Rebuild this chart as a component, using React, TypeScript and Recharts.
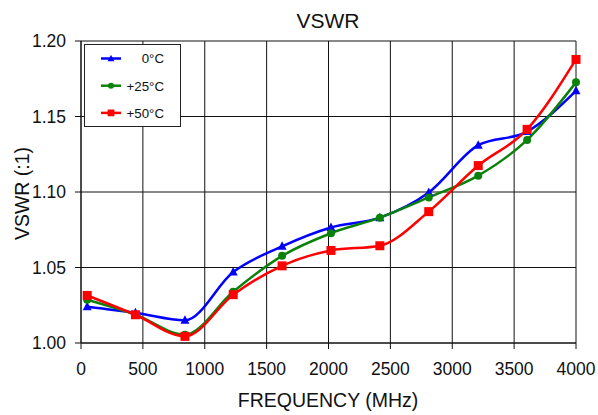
import { LineChart, Line, XAxis, YAxis, CartesianGrid, Legend } from "recharts";

const FREQ = [50, 440, 840, 1230, 1625, 2020, 2415, 2810, 3210, 3605, 4000];
const T0 = [1.024, 1.02, 1.015, 1.047, 1.064, 1.0765, 1.083, 1.0997, 1.131, 1.14, 1.167];
const T25 = [1.0286, 1.0187, 1.0055, 1.034, 1.0577, 1.0727, 1.083, 1.0964, 1.1108, 1.1345, 1.1726];
const T50 = [1.0315, 1.0187, 1.0044, 1.032, 1.0511, 1.0613, 1.0644, 1.087, 1.1175, 1.1415, 1.1878];

const X_TICKS = [0, 500, 1000, 1500, 2000, 2500, 3000, 3500, 4000];
const Y_TICKS = [1.0, 1.05, 1.1, 1.15, 1.2];

const FONT = "'Liberation Sans', Arial, Helvetica, sans-serif";

const COLORS = {
  t0: "#0000ff",
  t25: "#0a820a",
  t50: "#ff0000",
};

const data = FREQ.map((f, i) => ({ freq: f, t0: T0[i], t25: T25[i], t50: T50[i] }));

function Triangle({ cx, cy, fill, s = 1 }: any) {
  if (cx == null || cy == null) return null;
  return (
    <polygon
      points={`${cx},${cy - 5 * s} ${cx - 4.5 * s},${cy + 3.5 * s} ${cx + 4.5 * s},${cy + 3.5 * s}`}
      fill={fill}
    />
  );
}

function Circle({ cx, cy, fill, s = 1 }: any) {
  if (cx == null || cy == null) return null;
  return <circle cx={cx} cy={cy} r={4 * s} fill={fill} />;
}

function Square({ cx, cy, fill, s = 1 }: any) {
  if (cx == null || cy == null) return null;
  return <rect x={cx - 4.5 * s} y={cy - 4.5 * s} width={9 * s} height={9 * s} fill={fill} />;
}

const SERIES = [
  { key: "t0", label: "0°C", color: COLORS.t0, Dot: Triangle },
  { key: "t25", label: "+25°C", color: COLORS.t25, Dot: Circle },
  { key: "t50", label: "+50°C", color: COLORS.t50, Dot: Square },
];

function LegendBox() {
  return (
    <svg width={97} height={83} style={{ display: "block" }}>
      <rect x={0.5} y={0.5} width={96} height={82} fill="#fff" stroke="#222" strokeWidth={1} />
      {SERIES.map((s, i) => {
        const y = 14.5 + i * 27.2;
        const Dot = s.Dot;
        return (
          <g key={s.key}>
            <line x1={17} x2={37} y1={y} y2={y} stroke={s.color} strokeWidth={2.5} />
            <Dot cx={27} cy={y} fill={s.color} s={0.75} />
            <text x={80} y={y + 4.8} textAnchor="end" fontSize={13.3} fontFamily={FONT} fill="#111">
              {s.label}
            </text>
          </g>
        );
      })}
    </svg>
  );
}

export default function App() {
  return (
    <div style={{ position: "absolute", left: 0, top: 0, width: 598, height: 415, background: "#fff" }}>
      <LineChart width={598} height={415} data={data} margin={{ top: 41, right: 22, left: 0, bottom: 0 }}>
        <CartesianGrid stroke="#111" strokeWidth={1} />
        <XAxis
          type="number"
          dataKey="freq"
          domain={[0, 4000]}
          ticks={X_TICKS}
          height={72}
          stroke="#111"
          tickSize={6}
          tickMargin={14}
          tick={{ fontSize: 17.5, fontFamily: FONT, fill: "#111" }}
        />
        <YAxis
          type="number"
          domain={[1.0, 1.2]}
          ticks={Y_TICKS}
          width={81}
          stroke="#111"
          tickSize={6}
          tickMargin={9}
          tickFormatter={(v: number) => v.toFixed(2)}
          tick={{ fontSize: 17.5, fontFamily: FONT, fill: "#111" }}
        />
        <Legend
          layout="vertical"
          align="center"
          verticalAlign="middle"
          wrapperStyle={{ left: 84, top: 44, width: 97, height: 83 }}
          content={() => <LegendBox />}
        />
        {SERIES.map((s) => (
          <Line
            key={s.key}
            type="monotone"
            dataKey={s.key}
            stroke={s.color}
            strokeWidth={2.5}
            dot={<s.Dot fill={s.color} />}
            activeDot={false}
            isAnimationActive={false}
          />
        ))}
        <text x={328} y={28} textAnchor="middle" fontSize={21} fontFamily={FONT} fill="#111">
          VSWR
        </text>
        <text x={328} y={407} textAnchor="middle" fontSize={19.5} fontFamily={FONT} fill="#111">
          FREQUENCY (MHz)
        </text>
        <text
          x={0}
          y={0}
          transform="translate(28.5 193.5) rotate(-90)"
          textAnchor="middle"
          fontSize={19.5}
          fontFamily={FONT}
          fill="#111"
        >
          VSWR (:1)
        </text>
      </LineChart>
    </div>
  );
}
